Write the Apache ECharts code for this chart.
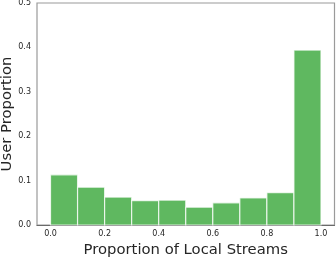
<!DOCTYPE html>
<html><head><meta charset="utf-8">
<script src="https://cdn.jsdelivr.net/npm/echarts@6/dist/echarts.min.js"></script>
<style>html,body{margin:0;padding:0;background:#fff}#c{width:336px;height:257px}</style>
</head><body><div id="c"></div>
<script>
var binStarts = [0.0, 0.1, 0.2, 0.3, 0.4, 0.5, 0.6, 0.7, 0.8, 0.9];
var binEnds   = [0.1, 0.2, 0.3, 0.4, 0.5, 0.6, 0.7, 0.8, 0.9, 1.0];
var userProportion = [0.113, 0.085, 0.063, 0.055, 0.056, 0.040, 0.050, 0.061, 0.073, 0.394];
var xTicks = [0.0, 0.2, 0.4, 0.6, 0.8, 1.0];
var yTicks = [0.0, 0.1, 0.2, 0.3, 0.4, 0.5];

var data = binStarts.map(function(s, i){ return [s, binEnds[i], userProportion[i]]; });
var font = 'DejaVu Sans';
var chart = echarts.init(document.getElementById('c'));
chart.setOption({
  animation: false,
  grid: {left: 37, right: 1.5, top: 3, bottom: 32, containLabel: false, outerBoundsMode: 'none',
    show: true, borderColor: '#9a9a9a', borderWidth: 1.2, backgroundColor: '#fff'},
  xAxis: {
    type: 'value', min: -0.05, max: 1.05,
    name: 'Proportion of Local Streams', nameLocation: 'middle', nameGap: 16,
    nameTextStyle: {fontFamily: font, fontSize: 14.8, color: '#262626'},
    axisLine: {show: true, onZero: false, lineStyle: {color: '#6a6a6a', width: 1.2}},
    axisTick: {show: false}, splitLine: {show: false},
    axisLabel: {customValues: xTicks, fontFamily: font, fontSize: 8, color: '#262626', margin: 5,
      formatter: function(v){ return v.toFixed(1); }}
  },
  yAxis: {
    type: 'value', min: 0, max: 0.5, interval: 0.1,
    name: 'User Proportion', nameLocation: 'middle', nameGap: 22, nameMoveOverlap: false,
    nameTextStyle: {fontFamily: font, fontSize: 14.8, color: '#262626'},
    axisLine: {show: false}, axisTick: {show: false}, splitLine: {show: false},
    axisLabel: {customValues: yTicks, fontFamily: font, fontSize: 8, color: '#262626', margin: 6,
      formatter: function(v){ return v.toFixed(1); }}
  },
  series: [{
    type: 'custom',
    data: data,
    encode: {x: [0, 1], y: 2},
    renderItem: function(params, api){
      var p0 = api.coord([api.value(0), api.value(2)]);
      var p1 = api.coord([api.value(1), 0]);
      return {type: 'rect', shape: {x: p0[0], y: p0[1], width: p1[0]-p0[0], height: p1[1]-p0[1]},
        style: {fill: '#5fb860', stroke: 'rgba(255,255,255,0.75)', lineWidth: 1.2}};
    }
  }]
});
</script></body></html>
